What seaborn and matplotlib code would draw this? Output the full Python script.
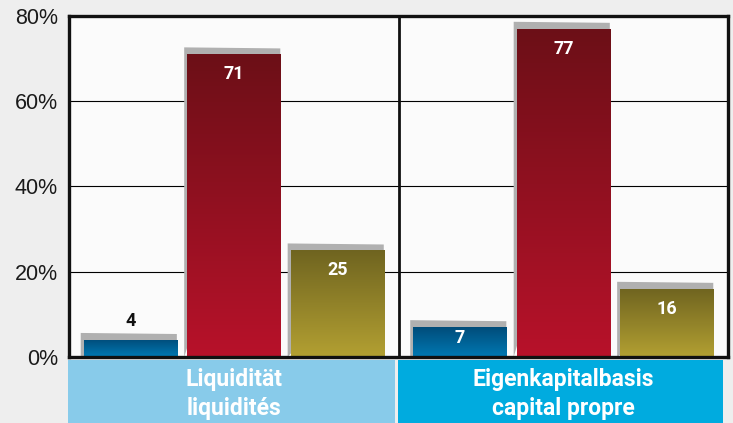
import numpy as np
import pandas as pd
import seaborn as sns
import matplotlib.pyplot as plt
import matplotlib.transforms as mtransforms
from matplotlib.patches import Rectangle, Polygon
from matplotlib.colors import LinearSegmentedColormap
from matplotlib import font_manager

categories = ["Liquidität\nliquidités", "Eigenkapitalbasis\ncapital propre"]
series = ["blue", "red", "olive"]
blue_vals = [4, 7]
red_vals = [71, 77]
olive_vals = [25, 16]
yticks = [0, 20, 40, 60, 80]
ytick_labels = ["0%", "20%", "40%", "60%", "80%"]

df = pd.DataFrame({
    "cat": categories * 3,
    "series": np.repeat(series, 2),
    "value": blue_vals + red_vals + olive_vals,
})

# top / bottom colours of each bar's gradient
grad = {
    "blue": ("#004c7a", "#0079b3"),
    "red": ("#6c0f17", "#b8122a"),
    "olive": ("#6f6420", "#b3a032"),
}
box_colors = ["#88cbea", "#00abdf"]

installed = {f.name for f in font_manager.fontManager.ttflist}
num_font = "Liberation Sans Narrow" if "Liberation Sans Narrow" in installed else "Roboto"

sns.set_theme(style="white")
plt.rcParams["font.family"] = ["Liberation Sans", "DejaVu Sans"]

fig = plt.figure(figsize=(7.33, 4.23), dpi=100, facecolor="#eeeeee")
ax = fig.add_axes([69 / 733, 1 - 357 / 423, 659 / 733, 341 / 423])
ax.set_facecolor("#fbfbfb")

sns.barplot(data=df, x="cat", y="value", hue="series", hue_order=series,
            palette={k: v[1] for k, v in grad.items()}, width=0.942, gap=0.10,
            saturation=1, legend=False, edgecolor="none", ax=ax, zorder=3)

ax.set_xlim(-0.5, 1.5)
ax.set_ylim(0, 80)

# pixel -> data sizes for the little 3D cap
inv = ax.transData.inverted()
p0 = inv.transform((0, 0))
p1 = inv.transform((3, 7))
dx, dy = p1[0] - p0[0], p1[1] - p0[1]
px_per_unit = ax.transData.transform((0, 1))[1] - ax.transData.transform((0, 0))[1]

ramp = np.linspace(1, 0, 256).reshape(-1, 1)
for name, cont in zip(series, ax.containers):
    cmap = LinearSegmentedColormap.from_list(name, [grad[name][1], grad[name][0]])
    for bar in cont:
        x0, w, h = bar.get_x(), bar.get_width(), bar.get_height()
        cap = Polygon([(x0 - dx, 0), (x0 - dx, h + dy), (x0 + w, h + dy * 0.85),
                       (x0 + w, h)], closed=True, facecolor="#b0b0b0",
                      edgecolor="none", zorder=2.5)
        ax.add_patch(cap)
        im = ax.imshow(ramp, extent=[x0, x0 + w, 0, h], aspect="auto",
                       cmap=cmap, origin="upper", zorder=3.2)
        im.set_clip_path(bar)
        hpx = h * px_per_unit
        if hpx < 25:
            ax.annotate(f"{h:.0f}", (x0 + w / 2, h), xytext=(0, 19),
                        textcoords="offset pixels", ha="center", va="center",
                        color="#111111", fontsize=13, fontweight="bold",
                        family=num_font, zorder=5)
        else:
            off = -min(20, 0.37 * hpx)
            ax.annotate(f"{h:.0f}", (x0 + w / 2, h), xytext=(0, off),
                        textcoords="offset pixels", ha="center", va="center",
                        color="white", fontsize=13, fontweight="bold",
                        family=num_font, zorder=5)

ax.set_xlim(-0.5, 1.5)
ax.set_ylim(0, 80)
ax.set_yticks(yticks, ytick_labels)
ax.tick_params(axis="y", length=0, pad=8, labelsize=15.5, labelcolor="#1a1a1a")
ax.set_xticks([])
ax.set_xlabel("")
ax.set_ylabel("")
ax.yaxis.grid(True, color="black", linewidth=0.8)
ax.set_axisbelow(True)
ax.axvline(0.5, color="#111111", linewidth=2, zorder=4)
for s in ax.spines.values():
    s.set_visible(True)
    s.set_color("#111111")
    s.set_linewidth(2.4)
    s.set_zorder(6)

# category label boxes under the axes
trans = mtransforms.blended_transform_factory(ax.transData, ax.transAxes)
box_x = [(-0.503, 0.49), (0.497, 1.485)]
for i, (cat, col, (bx0, bx1)) in enumerate(zip(categories, box_colors, box_x)):
    ax.add_patch(Rectangle((bx0, -0.195), bx1 - bx0, 0.186, transform=trans,
                           facecolor=col, edgecolor="none", clip_on=False))
    ax.text(i, -0.108, cat, transform=trans, ha="center", va="center",
            color="white", fontsize=16.5, fontweight="bold", family="Roboto",
            linespacing=1.36)

fig.savefig("out.png", dpi=100, facecolor=fig.get_facecolor())
